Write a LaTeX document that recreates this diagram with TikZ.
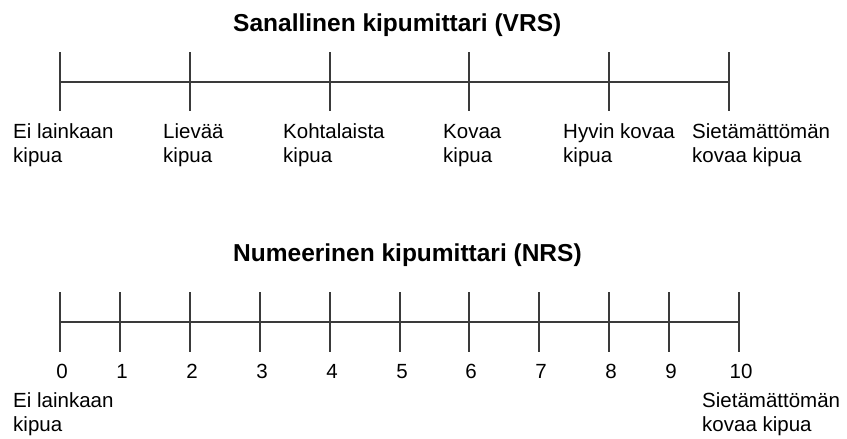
\documentclass[tikz,border=0pt]{standalone}
\usepackage{fontspec}
\setmainfont{Liberation Sans}
\usepackage{tikz}
\usetikzlibrary{positioning}
\definecolor{cLine}{HTML}{3A3A3A}
\tikzset{
  scaleline/.style={draw=cLine, line width=1.3pt},
  titlelbl/.style={font=\fontsize{24.5}{28}\selectfont\bfseries, anchor=base west, inner sep=0pt},
  steplbl/.style={font=\fontsize{20.5}{24}\selectfont, anchor=base west, inner sep=0pt, align=left},
  numlbl/.style={font=\fontsize{20.5}{24}\selectfont, anchor=base, inner sep=0pt},
}
\begin{document}
\begin{tikzpicture}[x=1pt, y=-1pt]
  \useasboundingbox (0,0) rectangle (847,439);

  % VRS
  \node[titlelbl] (vrsTitle) at (233,31.5) {Sanallinen kipumittari (VRS)};
  \foreach \i/\x in {0/60,1/190,2/330,3/469,4/609,5/729}
    \coordinate (v\i) at (\x,82);
  \draw[scaleline] (v0) -- (v5);
  \foreach \i in {0,...,5}
    \draw[scaleline] ([yshift=30pt]v\i) -- ([yshift=-29pt]v\i);

  % labels: base = baseline of the second line
  \node[steplbl] (vl0) at (13,162.5)  {Ei lainkaan\\kipua};
  \node[steplbl] (vl1) at (163,162.5) {Lievää\\kipua};
  \node[steplbl] (vl2) at (283,162.5) {Kohtalaista\\kipua};
  \node[steplbl] (vl3) at (443,162.5) {Kovaa\\kipua};
  \node[steplbl] (vl4) at (563,162.5) {Hyvin kovaa\\kipua};
  \node[steplbl] (vl5) at (692,162.5) {Sietämättömän\\kovaa kipua};

  % NRS
  \node[titlelbl] (nrsTitle) at (233,261.5) {Numeerinen kipumittari (NRS)};
  \foreach \i/\x in {0/60,1/120,2/190,3/260,4/330,5/400,6/469,7/539,8/609,9/669,10/739}
    \coordinate (n\i) at (\x,322);
  \draw[scaleline] (n0) -- (n10);
  \foreach \i in {0,...,10}{
    \draw[scaleline] ([yshift=30pt]n\i) -- ([yshift=-30pt]n\i);
    \node[numlbl] (nl\i) at ([xshift=2pt,yshift=-56pt]n\i) {\i};
  }

  \node[steplbl] (nlo) at (13,431.5)  {Ei lainkaan\\kipua};
  \node[steplbl] (nhi) at (702,431.5) {Sietämättömän\\kovaa kipua};
\end{tikzpicture}
\end{document}
